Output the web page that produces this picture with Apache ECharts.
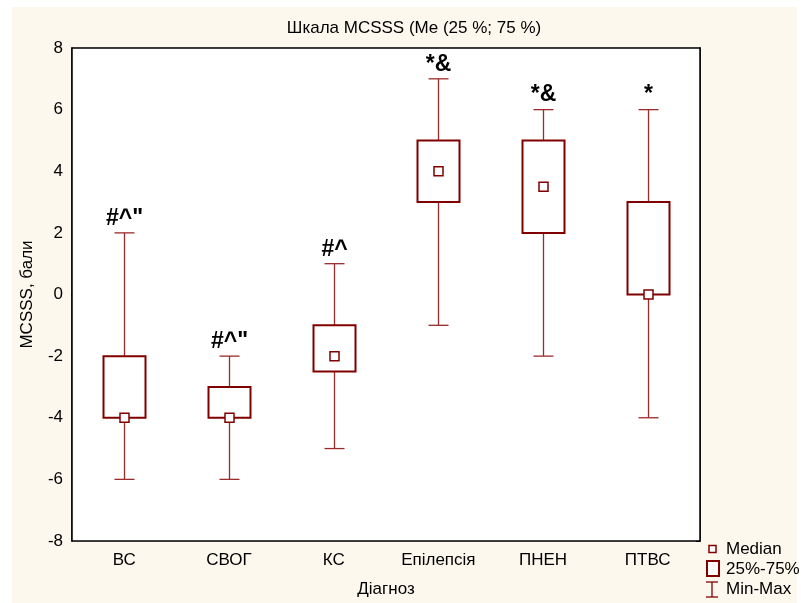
<!DOCTYPE html>
<html>
<head>
<meta charset="utf-8">
<script src="https://cdn.jsdelivr.net/npm/echarts@6/dist/echarts.min.js"></script>
<style>
  html, body { margin: 0; padding: 0; background: #ffffff; }
  #chart { width: 801px; height: 603px; }
</style>
</head>
<body>
<div id="chart"></div>
<script>
// категорії (діагнози)
const categories = ["ВС", "СВОГ", "КС", "Епілепсія", "ПНЕН", "ПТВС"];
// статистика по шкалі MCSSS
const minValues = [-6, -6, -5, -1, -2, -4];
const q1Values = [-4, -4, -2.5, 3, 2, 0];
const medianValues = [-4, -4, -2, 4, 3.5, 0];
const q3Values = [-2, -3, -1, 5, 5, 3];
const maxValues = [2, -2, 1, 7, 6, 6];
// позначки значущості
const marks = ['#^"', '#^"', "#^", "*&", "*&", "*"];
const yTicks = [-8, -6, -4, -2, 0, 2, 4, 6, 8];

const darkRed = "#800000";
const whiskerColor = "#9b2a2a";
const fontName = "Liberation Sans, Arial, sans-serif";

const chart = echarts.init(document.getElementById("chart"));

const data = categories.map((c, i) => [
  i, minValues[i], q1Values[i], medianValues[i], q3Values[i], maxValues[i]
]);

function renderBox(params, api) {
  const i = api.value(0);
  const pMin = api.coord([i, api.value(1)]);
  const pQ1 = api.coord([i, api.value(2)]);
  const pMed = api.coord([i, api.value(3)]);
  const pQ3 = api.coord([i, api.value(4)]);
  const pMax = api.coord([i, api.value(5)]);
  const x = Math.round(pMed[0]) + 0.5;
  const boxW = 42;
  const capW = 20;
  const medS = 9;
  return {
    type: "group",
    children: [
      // вуса
      {
        type: "line",
        shape: { x1: x, y1: pMax[1], x2: x, y2: pQ3[1] },
        style: { stroke: whiskerColor, lineWidth: 1.3 }
      },
      {
        type: "line",
        shape: { x1: x, y1: pQ1[1], x2: x, y2: pMin[1] },
        style: { stroke: whiskerColor, lineWidth: 1.3 }
      },
      {
        type: "line",
        shape: { x1: x - capW / 2, y1: pMax[1], x2: x + capW / 2, y2: pMax[1] },
        style: { stroke: whiskerColor, lineWidth: 1.3 }
      },
      {
        type: "line",
        shape: { x1: x - capW / 2, y1: pMin[1], x2: x + capW / 2, y2: pMin[1] },
        style: { stroke: whiskerColor, lineWidth: 1.3 }
      },
      // коробка 25%-75%
      {
        type: "rect",
        shape: { x: x - boxW / 2, y: pQ3[1], width: boxW, height: pQ1[1] - pQ3[1] },
        style: { fill: "#ffffff", stroke: darkRed, lineWidth: 2 }
      },
      // медіана
      {
        type: "rect",
        shape: { x: x - medS / 2, y: pMed[1] - medS / 2, width: medS, height: medS },
        style: { fill: "#ffffff", stroke: darkRed, lineWidth: 1.5 }
      },
      // позначка
      {
        type: "text",
        x: x,
        y: pMax[1] - 3,
        style: {
          text: marks[params.dataIndex],
          fill: "#000000",
          font: "bold 23px " + fontName,
          align: "center",
          verticalAlign: "bottom"
        }
      }
    ]
  };
}

const option = {
  backgroundColor: "#ffffff",
  animation: false,
  textStyle: { fontFamily: fontName },
  grid: {
    left: 72,
    right: 101,
    top: 48,
    bottom: 58,
    show: true,
    backgroundColor: "#ffffff",
    borderColor: "#000000",
    borderWidth: 1.5,
    z: 1
  },
  xAxis: [
    {
      type: "category",
      data: categories,
      boundaryGap: true,
      name: "Діагноз",
      nameLocation: "middle",
      nameGap: 40,
      nameTextStyle: { fontSize: 17, color: "#000000", fontFamily: fontName },
      axisLine: { lineStyle: { color: "#000000", width: 1.5 } },
      axisTick: { inside: true, alignWithLabel: true, length: 4, lineStyle: { color: "#000000" } },
      axisLabel: { fontSize: 17, color: "#000000", margin: 11, fontFamily: fontName },
      splitLine: { show: false }
    },
    {
      type: "category",
      data: categories,
      position: "top",
      boundaryGap: true,
      axisLine: { lineStyle: { color: "#000000", width: 1.5 } },
      axisTick: { inside: true, alignWithLabel: true, length: 4, lineStyle: { color: "#000000" } },
      axisLabel: { show: false }
    }
  ],
  yAxis: [
    {
      type: "value",
      min: -8,
      max: 8,
      interval: 2,
      name: "MCSSS, бали",
      nameLocation: "middle",
      nameGap: 36,
      nameTextStyle: { fontSize: 17, color: "#000000", fontFamily: fontName },
      axisLine: { show: true, lineStyle: { color: "#000000", width: 1.5 } },
      axisTick: { show: false },
      axisLabel: {
        fontSize: 17,
        color: "#000000",
        margin: 9,
        fontFamily: fontName,
        customValues: yTicks
      },
      splitLine: { show: true, lineStyle: { color: "#dcdcdc", width: 1.5 } }
    },
    {
      type: "value",
      min: -8,
      max: 8,
      interval: 2,
      position: "right",
      axisLine: { show: true, lineStyle: { color: "#000000", width: 1.5 } },
      axisTick: { show: true, inside: true, length: 4, lineStyle: { color: "#000000" } },
      axisLabel: { show: false },
      splitLine: { show: false }
    }
  ],
  graphic: [
    {
      type: "rect",
      z: -10,
      silent: true,
      shape: { x: 12, y: 7, width: 785, height: 596 },
      style: { fill: "#fdf8ee" }
    },
    {
      type: "text",
      x: 414,
      y: 28,
      style: {
        text: "Шкала MCSSS (Me (25 %; 75 %)",
        font: "17px " + fontName,
        fill: "#000000",
        align: "center",
        verticalAlign: "middle"
      }
    },
    // легенда
    {
      type: "group",
      x: 0,
      y: 0,
      children: [
        { type: "rect", shape: { x: 709, y: 545.5, width: 7, height: 7 }, style: { fill: "#ffffff", stroke: darkRed, lineWidth: 1.5 } },
        { type: "text", x: 726, y: 549, style: { text: "Median", font: "17px " + fontName, fill: "#000000", verticalAlign: "middle" } },
        { type: "rect", shape: { x: 707, y: 561, width: 12, height: 15 }, style: { fill: "#ffffff", stroke: darkRed, lineWidth: 2 } },
        { type: "text", x: 726, y: 569, style: { text: "25%-75%", font: "17px " + fontName, fill: "#000000", verticalAlign: "middle" } },
        { type: "line", shape: { x1: 706, y1: 582, x2: 718, y2: 582 }, style: { stroke: darkRed, lineWidth: 1.3 } },
        { type: "line", shape: { x1: 712, y1: 582, x2: 712, y2: 597 }, style: { stroke: darkRed, lineWidth: 1.3 } },
        { type: "line", shape: { x1: 706, y1: 597, x2: 718, y2: 597 }, style: { stroke: darkRed, lineWidth: 1.3 } },
        { type: "text", x: 726, y: 589, style: { text: "Min-Max", font: "17px " + fontName, fill: "#000000", verticalAlign: "middle" } }
      ]
    }
  ],
  series: [
    {
      type: "custom",
      xAxisIndex: 0,
      yAxisIndex: 0,
      renderItem: renderBox,
      encode: { x: 0, y: [1, 2, 3, 4, 5] },
      data: data,
      z: 5
    }
  ]
};

chart.setOption(option);
window.addEventListener("resize", () => {
  if (chart) {
    chart.resize();
  }
});
</script>
</body>
</html>
